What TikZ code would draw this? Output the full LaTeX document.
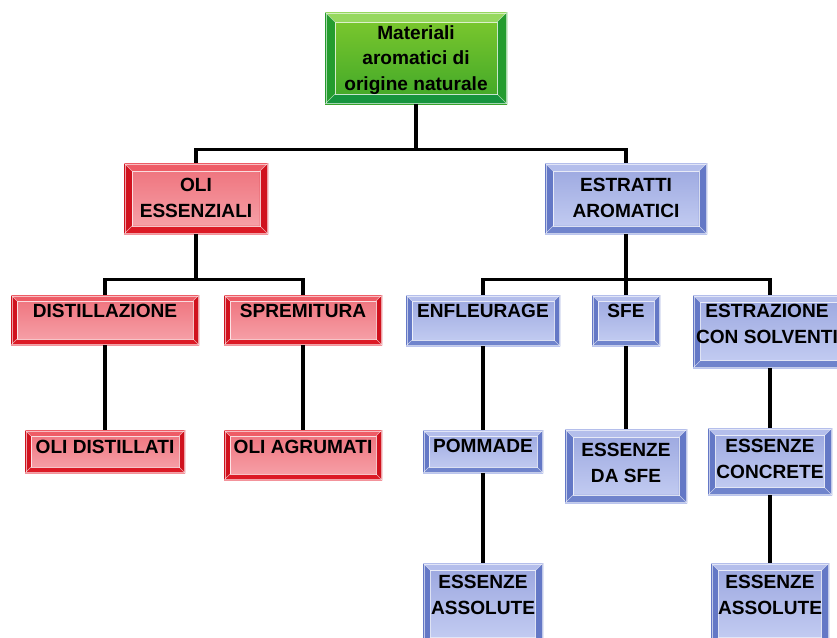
\documentclass[tikz,border=0pt]{standalone}
\usepackage{fontspec}
\setmainfont{Liberation Sans}
\usetikzlibrary{calc,fit}
\definecolor{rF1}{RGB}{238,112,122}
\definecolor{rF2}{RGB}{247,165,172}
\definecolor{rT}{RGB}{238,92,102}
\definecolor{rS}{RGB}{208,18,30}
\definecolor{rB}{RGB}{220,26,38}
\definecolor{bF1}{RGB}{154,166,223}
\definecolor{bF2}{RGB}{198,207,243}
\definecolor{bT}{RGB}{180,190,235}
\definecolor{bS}{RGB}{100,120,198}
\definecolor{bB}{RGB}{112,132,204}
\definecolor{gF1}{RGB}{128,202,46}
\definecolor{gF2}{RGB}{62,166,40}
\definecolor{gT}{RGB}{150,216,94}
\definecolor{gS}{RGB}{36,156,46}
\definecolor{gB}{RGB}{22,148,62}
\tikzset{
  bev/.style 2 args={inner sep=0pt, draw=none,
    path picture={
      \path (path picture bounding box.north west) coordinate (pA)
            (path picture bounding box.north east) coordinate (pB)
            (path picture bounding box.south east) coordinate (pC)
            (path picture bounding box.south west) coordinate (pD);
      \shade[top color=#1F1, bottom color=#1F2] (pA) rectangle (pC);
      \fill[#1T] (pA) -- (pB) -- ($(pB)+(-#2,-#2)$) -- ($(pA)+(#2,-#2)$) -- cycle;
      \fill[#1B] (pD) -- (pC) -- ($(pC)+(-#2,#2)$) -- ($(pD)+(#2,#2)$) -- cycle;
      \fill[#1S] (pA) -- (pD) -- ($(pD)+(#2,#2)$) -- ($(pA)+(#2,-#2)$) -- cycle;
      \fill[#1S] (pB) -- (pC) -- ($(pC)+(-#2,#2)$) -- ($(pB)+(-#2,-#2)$) -- cycle;
      \draw[white, opacity=0.75, line width=0.5pt] ($(pA)+(#2,-#2)$) rectangle ($(pC)+(-#2,#2)$);
      \draw[white, opacity=0.6, line width=0.4pt] (pA) -- ++(#2,-#2) (pB) -- ++(-#2,-#2)
            (pC) -- ++(-#2,#2) (pD) -- ++(#2,#2);
      \draw[white, opacity=0.6, line width=0.5pt] ($(pA)+(0.7pt,-0.7pt)$) rectangle ($(pC)+(-0.7pt,0.7pt)$);
    }},
  txt/.style={font=\bfseries\fontsize{16.3}{21.5}\selectfont, align=center, inner sep=0pt, text=black},
  conn/.style={line width=2.9pt, black}
}
\begin{document}
\begin{tikzpicture}[x=0.03cm, y=-0.03cm]
\clip (0,0) rectangle (837,637);
\fill[white] (0,0) rectangle (837,637);

% level 1
\node[fit={(325,12)(507,104)}, bev={g}{8.5pt}] (top) {};
\node[txt] (top-t) at (416,60) {Materiali\\aromatici di\\origine naturale};

% level 2
\node[fit={(124,163)(268,234)}, bev={r}{7pt}] (oli) {};
\node[txt] (oli-t) at (196,198) {OLI\\ESSENZIALI};
\node[fit={(545,163)(707,234)}, bev={b}{7pt}] (estr) {};
\node[txt] (estr-t) at (626,198) {ESTRATTI\\AROMATICI};

% level 3
\node[fit={(11,295)(199,345)}, bev={r}{5pt}] (dist) {};
\node[txt] (dist-t) at (105,311) {DISTILLAZIONE};
\node[fit={(224,295)(382,345)}, bev={r}{5pt}] (spre) {};
\node[txt] (spre-t) at (303,311) {SPREMITURA};
\node[fit={(406,295)(560,346)}, bev={b}{5pt}] (enf) {};
\node[txt] (enf-t) at (483,311) {ENFLEURAGE};
\node[fit={(592,295)(660,346)}, bev={b}{5pt}] (sfe) {};
\node[txt] (sfe-t) at (626,311) {SFE};
\node[fit={(693,295)(847,368)}, bev={b}{6.5pt}] (solv) {};
\node[txt] (solv-t) at (767,324) {ESTRAZIONE\\CON SOLVENTI};

% level 4
\node[fit={(25,430)(185,473)}, bev={r}{5pt}] (odis) {};
\node[txt] (odis-t) at (105,447) {OLI DISTILLATI};
\node[fit={(224,430)(382,480)}, bev={r}{5pt}] (oagr) {};
\node[txt] (oagr-t) at (303,447) {OLI AGRUMATI};
\node[fit={(423,430)(543,473)}, bev={b}{5pt}] (pomm) {};
\node[txt] (pomm-t) at (483,446) {POMMADE};
\node[fit={(565,429)(687,503)}, bev={b}{7pt}] (esfe) {};
\node[txt] (esfe-t) at (626,463) {ESSENZE\\DA SFE};
\node[fit={(708,428)(832,495)}, bev={b}{6.5pt}] (conc) {};
\node[txt] (conc-t) at (770,459) {ESSENZE\\CONCRETE};

% level 5
\node[fit={(423,563)(543,645)}, bev={b}{6.5pt}] (ass1) {};
\node[txt] (ass1-t) at (483,595) {ESSENZE\\ASSOLUTE};
\node[fit={(711,563)(829,645)}, bev={b}{6.5pt}] (ass2) {};
\node[txt] (ass2-t) at (770,595) {ESSENZE\\ASSOLUTE};

% connectors
\coordinate (j1) at ($(top.south)+(0,45)$);
\draw[conn] (top.south) -- (j1);
\draw[conn] (oli.north) |- (j1) -| (estr.north);

\coordinate (j2) at ($(oli.south)+(0,45)$);
\draw[conn] (oli.south) -- (j2);
\draw[conn] (dist.north) |- (j2) -| (spre.north);

\coordinate (j3) at ($(estr.south)+(0,45)$);
\draw[conn] (estr.south) -- (j3);
\draw[conn] (enf.north) |- (j3) -| (solv.north);
\draw[conn] (j3) -- (sfe.north);

\draw[conn] (dist.south) -- (odis.north);
\draw[conn] (spre.south) -- (oagr.north);
\draw[conn] (enf.south) -- (pomm.north);
\draw[conn] (pomm.south) -- (ass1.north);
\draw[conn] (sfe.south) -- (esfe.north);
\draw[conn] (solv.south) -- (conc.north);
\draw[conn] (conc.south) -- (ass2.north);
\end{tikzpicture}
\end{document}
